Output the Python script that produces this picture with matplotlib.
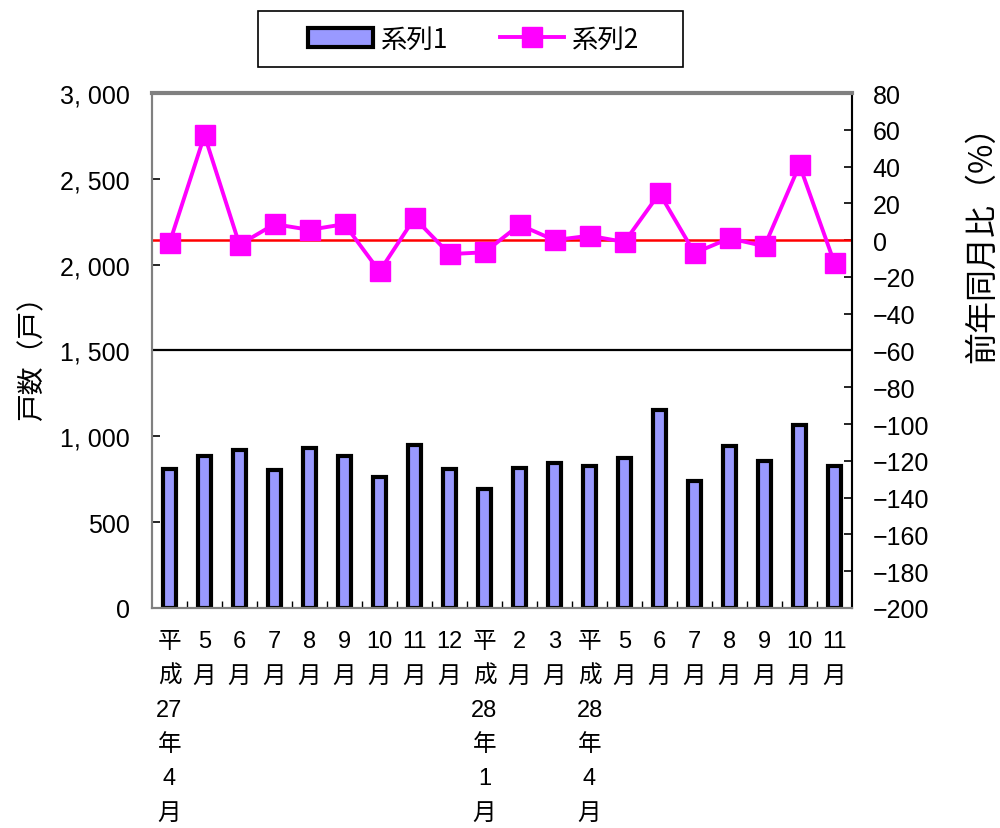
import matplotlib
matplotlib.use("Agg")
import matplotlib.pyplot as plt
import numpy as np
from matplotlib.patches import Rectangle

FAM = ['Liberation Sans', 'Noto Sans CJK JP', 'DejaVu Sans']
CJK = ['Noto Sans CJK JP', 'DejaVu Sans']
plt.rcParams['font.family'] = FAM
plt.rcParams['axes.unicode_minus'] = False

categories = ["平\n成\n27\n年\n4\n月", "5\n月", "6\n月", "7\n月", "8\n月", "9\n月", "10\n月", "11\n月",
              "12\n月", "平\n成\n28\n年\n1\n月", "2\n月", "3\n月", "平\n成\n28\n年\n4\n月", "5\n月",
              "6\n月", "7\n月", "8\n月", "9\n月", "10\n月", "11\n月"]
series1 = [810, 887, 920, 804, 930, 887, 763, 951, 810, 693,
           817, 843, 827, 874, 1153, 742, 944, 858, 1066, 827]
series2 = [-1.6, 57, -2.5, 8.7, 5.6, 8.7, -17, 12, -7.6, -6.6,
           8.3, 0, 2.4, -1, 25.5, -7, 1, -3.3, 40.8, -12.5]
left_ticks = [0, 500, 1000, 1500, 2000, 2500, 3000]
left_labels = ["0", "500", "1, 000", "1, 500", "2, 000", "2, 500", "3, 000"]
right_ticks = list(range(-200, 81, 20))

fig = plt.figure(figsize=(10, 8.29), dpi=100)
ax1 = fig.add_axes([0.152, 0.2654, 0.700, 0.6212])
ax2 = ax1.twinx()

x = np.arange(len(categories))
bars = ax1.bar(x, series1, width=0.38, color="#9999FF", edgecolor="black", linewidth=3.0, label="系列1", zorder=2)
ax1.axhline(1500, color="black", linewidth=1.6, zorder=1)
ax1.set_xlim(-0.5, len(categories) - 0.5)
ax1.set_ylim(0, 3000)
ax1.set_yticks(left_ticks)
ax1.set_yticklabels(left_labels, fontsize=18)
ax1.set_xticks(x)
ax1.set_xticklabels(categories, fontsize=17, linespacing=1.72, va="top")
ax1.tick_params(axis="x", length=0, pad=16)
ax1.set_xticks(np.arange(0.5, len(categories) - 0.5, 1), minor=True)
ax1.tick_params(axis="x", which="minor", direction="in", length=5, width=1, color="black")
ax1.tick_params(axis="y", direction="in", length=6, width=1.2, pad=16)
ax1.set_ylabel("戸数（戸）", fontsize=20, family=CJK)
ax1.yaxis.set_label_coords(-0.150, 0.5)

line, = ax2.plot(x, series2, color="#FF00FF", linewidth=2.8, marker="s", markersize=14,
                 markerfacecolor="#FF00FF", markeredgecolor="#FF00FF", label="系列2", zorder=3)
ax2.axhline(0, color="#FF0000", linewidth=1.8, zorder=2)
ax2.set_ylim(-200, 80)
ax2.set_yticks(right_ticks)
ax2.set_yticklabels([str(t).replace("-", "\u2212") for t in right_ticks], fontsize=18)
ax2.tick_params(axis="y", direction="in", length=6, width=1.2, pad=15)
ax2.set_ylabel("前年同月比（%）", fontsize=23, rotation=90, family=CJK)
ax2.yaxis.set_label_position("right")
ax2.yaxis.set_label_coords(1.163, 0.723)

for ax in (ax1, ax2):
    for s in ax.spines.values():
        s.set_color("#808080")
        s.set_linewidth(1.5)
ax2.spines["top"].set_linewidth(3)
ax2.spines["right"].set_color("black")

fig.patches.append(Rectangle((0.258, 0.918), 0.425, 0.0675, transform=fig.transFigure,
                             facecolor="white", edgecolor="black", linewidth=1.2, zorder=0))
leg = fig.legend(handles=[bars, line], labels=["系列1", "系列2"], loc="center",
                 bbox_to_anchor=(0.474, 0.9515), ncol=2, frameon=False,
                 prop={'family': CJK, 'size': 19},
                 handlelength=2.45, columnspacing=1.95,
                 borderpad=0.3, handletextpad=0.3, borderaxespad=0)

fig.savefig("out.png", dpi=100)
